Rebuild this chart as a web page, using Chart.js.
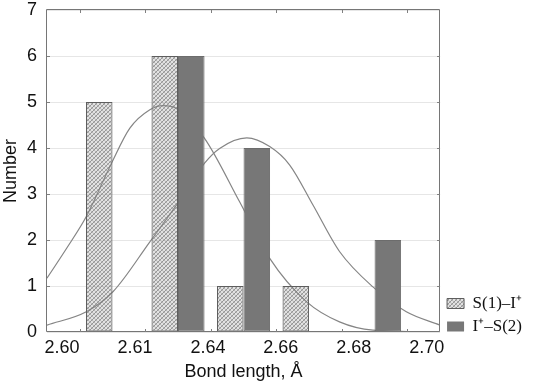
<!DOCTYPE html>
<html>
<head>
<meta charset="utf-8">
<script src="https://cdn.jsdelivr.net/npm/chart.js@4/dist/chart.umd.min.js"></script>
<style>
html,body{margin:0;padding:0;background:#fff;}
#wrap{width:537px;height:390px;}
</style>
</head>
<body>
<div id="wrap"><canvas id="c" width="537" height="390"></canvas></div>
<script>
// ---- data ----
const binCentres = [2.61, 2.63, 2.65, 2.67, 2.69];
const seriesNames = ['S(1)–I⁺', 'I⁺–S(2)'];
const s1Counts = [5, 6, 1, 1, 0];
const s2Counts = [0, 6, 4, 0, 2];

const fit1X = [2.590, 2.596, 2.602, 2.6097, 2.6153, 2.6214, 2.6254, 2.6295, 2.6381, 2.6488, 2.6580, 2.6692, 2.6793, 2.6895, 2.710];
const fit1Y = [1.17, 1.82, 2.51, 3.67, 4.43, 4.83, 4.92, 4.86, 4.21, 2.83, 1.60, 0.66, 0.22, 0.04, 0.00];

const fit2X = [2.590, 2.602, 2.6102, 2.6214, 2.6295, 2.6381, 2.6427, 2.6510, 2.6580, 2.6641, 2.6712, 2.6793, 2.6895, 2.6997, 2.710];
const fit2Y = [0.15, 0.44, 0.88, 1.96, 2.76, 3.67, 3.99, 4.22, 4.03, 3.63, 2.76, 1.75, 0.98, 0.44, 0.15];

const xTickMarks = [2.60, 2.62, 2.64, 2.66, 2.68, 2.70];
const xTickLabels = ['2.60', '2.61', '2.64', '2.66', '2.68', '2.70'];
const yTickValues = [0, 1, 2, 3, 4, 5, 6, 7];
const xTitle = 'Bond length, Å';
const yTitle = 'Number';

// ---- styling ----
Chart.defaults.font.family = "'Liberation Sans', Arial, sans-serif";
Chart.defaults.color = '#111';

const canvas = document.getElementById('c');
const ctx = canvas.getContext('2d');

function makeHatch() {
  const c = document.createElement('canvas');
  c.width = 4; c.height = 4;
  const g = c.getContext('2d');
  g.fillStyle = 'rgba(150,150,150,0.28)'; g.fillRect(0, 0, 4, 4);
  g.fillStyle = 'rgba(120,120,120,0.72)';
  for (let i = 0; i < 4; i++) g.fillRect(i, 3 - i, 1, 1);
  g.fillStyle = 'rgba(140,140,140,0.5)';
  for (let i = 0; i < 4; i++) g.fillRect(i, i, 1, 1);
  return ctx.createPattern(c, 'repeat');
}
const hatch = makeHatch();

const frame = {
  id: 'frame',
  afterDatasetsDraw(chart) {
    const a = chart.chartArea;
    const c = chart.ctx;
    const xs = chart.scales.x, ys = chart.scales.y;
    c.save();
    c.strokeStyle = '#767676';
    c.lineWidth = 1;
    c.beginPath();
    c.rect(Math.round(a.left) - 0.5, Math.round(a.top) - 0.5, Math.round(a.right - a.left), Math.round(a.bottom - a.top));
    c.stroke();
    c.strokeStyle = '#808080';
    c.beginPath();
    xTickMarks.forEach(v => {
      const px = Math.round(xs.getPixelForValue(v)) + 0.5;
      c.moveTo(px, a.top); c.lineTo(px, a.top + 3);
      c.moveTo(px, a.bottom); c.lineTo(px, a.bottom - 3);
    });
    yTickValues.slice(1, -1).forEach(v => {
      const py = Math.round(ys.getPixelForValue(v)) + 0.5;
      c.moveTo(a.left, py); c.lineTo(a.left + 3, py);
      c.moveTo(a.right, py); c.lineTo(a.right - 3, py);
    });
    c.stroke();
    c.restore();
  }
};

const legendShift = {
  id: 'legendShift',
  afterLayout(chart) {
    const l = chart.legend;
    if (!l) return;
    l.top += 9; l.bottom += 9;
    l.left += 1; l.right += 1;
  }
};

new Chart(ctx, {
  type: 'bar',
  data: {
    datasets: [
      {
        type: 'bar',
        label: seriesNames[0],
        data: binCentres.map((x, i) => ({x: x, y: s1Counts[i]})),
        backgroundColor: hatch,
        borderColor: '#5e5e5e',
        borderWidth: c => (c.raw && c.raw.y ? 1 : 0),
        borderSkipped: false,
        barPercentage: 1,
        categoryPercentage: 0.81,
        order: 1,
        xAxisID: 'x', yAxisID: 'y'
      },
      {
        type: 'bar',
        label: seriesNames[1],
        data: binCentres.map((x, i) => ({x: x, y: s2Counts[i]})),
        backgroundColor: '#777777',
        borderColor: '#6c6c6c',
        borderWidth: c => (c.raw && c.raw.y ? 1 : 0),
        borderSkipped: false,
        barPercentage: 1,
        categoryPercentage: 0.81,
        order: 2,
        xAxisID: 'x', yAxisID: 'y'
      },
      {
        type: 'line',
        label: 'fit 1',
        data: fit1X.map((x, i) => ({x: x, y: fit1Y[i]})),
        borderColor: '#858585',
        borderWidth: 1.2,
        pointRadius: 0,
        fill: false,
        cubicInterpolationMode: 'monotone',
        order: 4,
        xAxisID: 'x', yAxisID: 'y'
      },
      {
        type: 'line',
        label: 'fit 2',
        data: fit2X.map((x, i) => ({x: x, y: fit2Y[i]})),
        borderColor: '#858585',
        borderWidth: 1.2,
        pointRadius: 0,
        fill: false,
        cubicInterpolationMode: 'monotone',
        order: 4,
        xAxisID: 'x', yAxisID: 'y'
      }
    ]
  },
  options: {
    responsive: false,
    animation: false,
    devicePixelRatio: 1,
    layout: {padding: {top: 0, right: 6, left: 0, bottom: 0}},
    plugins: {
      tooltip: {enabled: false},
      legend: {
        position: 'right',
        align: 'end',
        fullSize: false,
        labels: {
          boxWidth: 17,
          boxHeight: 10,
          padding: 6,
          color: '#111',
          font: {family: "'Liberation Serif', 'Times New Roman', serif", size: 17},
          filter: item => item.datasetIndex < 2,
          sort: (a, b) => a.datasetIndex - b.datasetIndex
        }
      }
    },
    scales: {
      x: {
        type: 'linear',
        display: false,
        min: 2.59,
        max: 2.71,
        offset: false,
        grid: {offset: false}
      },
      xl: {
        type: 'linear',
        position: 'bottom',
        min: -0.2055,
        max: 5.182,
        offset: false,
        grid: {display: false, drawTicks: false, offset: false},
        border: {display: false},
        afterBuildTicks: s => { s.ticks = xTickLabels.map((_, i) => ({value: i})); },
        afterFit: s => { s.height = 58; },
        ticks: {
          autoSkip: false,
          maxRotation: 0,
          padding: 5,
          font: {size: 18},
          color: '#111',
          callback: v => xTickLabels[v]
        },
        title: {
          display: true,
          text: xTitle,
          font: {size: 18},
          color: '#111',
          padding: {top: 0, bottom: 7}
        }
      },
      y: {
        type: 'linear',
        min: 0,
        max: 7,
        afterBuildTicks: s => { s.ticks = yTickValues.map(v => ({value: v})); },
        afterFit: s => { s.width = 47; s.paddingTop = 10; s.paddingBottom = 10; },
        grid: {color: '#e6e6e6', drawTicks: false},
        border: {display: false},
        ticks: {
          padding: 10,
          font: {size: 18},
          color: '#111'
        },
        title: {
          display: true,
          text: yTitle,
          font: {size: 18},
          color: '#111',
          padding: {top: 0, bottom: 0}
        }
      }
    }
  },
  plugins: [frame, legendShift]
});
</script>
</body>
</html>
